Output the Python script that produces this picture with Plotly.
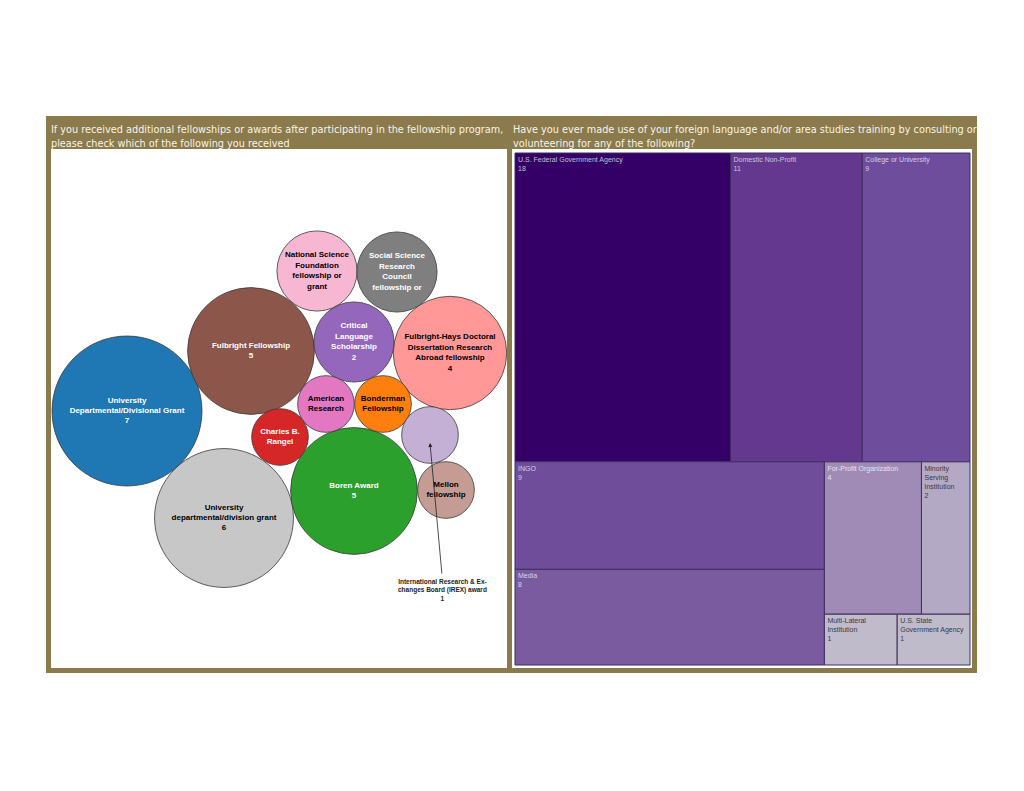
import plotly.graph_objects as go

W, H = 1024, 791

# --- left panel: bubbles (awards received after the program) ---
bubble_text = [
    "University<br>Departmental/Divisional Grant<br>7",
    "University<br>departmental/division grant<br>6",
    "Fulbright Fellowship<br>5",
    "Boren Award<br>5",
    "Fulbright-Hays Doctoral<br>Dissertation Research<br>Abroad fellowship<br>4",
    "Critical<br>Language<br>Scholarship<br>2",
    "National Science<br>Foundation<br>fellowship or<br>grant",
    "Social Science<br>Research<br>Council<br>fellowship or",
    "American<br>Research",
    "Bonderman<br>Fellowship",
    "Charles B.<br>Rangel",
    "",
    "Mellon<br>fellowship",
]
bubble_values = [7, 6, 5, 5, 4, 2, 2, 2, 1, 1, 1, 1, 1]
# packed positions of the bubble centres (same units as the panel axes)
bubble_x = [127, 224, 251, 354, 450, 354, 317, 397, 326, 383, 280, 430, 446]
bubble_y = [411, 518, 351, 491, 353, 342, 271, 272, 404, 404, 437, 435, 490]
irex_label = "International Research & Ex-<br>changes Board (IREX) award<br>1"

bubble_colors = ["#1f77b4", "#c7c7c7", "#8c564b", "#2ca02c", "#ff9896", "#9467bd",
                 "#f7b6d2", "#7f7f7f", "#e377c2", "#ff7f0e", "#d62728", "#c5b0d5",
                 "#c49c94"]
bubble_text_colors = ["white", "black", "white", "white", "black", "white",
                      "black", "white", "black", "black", "white", "black",
                      "black"]

# --- right panel: treemap (use of language / area training) ---
tree_labels = ["U.S. Federal Government Agency", "Domestic Non-Profit",
               "College or University", "INGO", "Media", "For-Profit Organization",
               "Minority<br>Serving<br>Institution", "Multi-Lateral<br>Institution",
               "U.S. State<br>Government Agency"]
tree_values = [18, 11, 9, 9, 8, 4, 2, 1, 1]
tree_colors = ["#340068", "#64388f", "#6e4d9d", "#6f4d9b", "#7a5ba0", "#a08bb6",
               "#b4a9c4", "#c0bbcb", "#c0bbcb"]
tree_text_colors = ["#c4c0cc", "#ccc6d8", "#d4cfe0", "#d4cfe0", "#d8d3e4",
                    "#e6e2ee", "#3c3846", "#3c3846", "#3c3846"]

title_left = ("If you received additional fellowships or awards after participating in the fellowship program,"
              "<br>please check which of the following you received")
title_right = ("Have you ever made use of your foreign language and/or area studies training by consulting or"
               "<br>volunteering for any of the following?")


def px_x(v):
    return v / W


def px_y(v):
    return 1 - v / H


fig = go.Figure()

fig.add_trace(go.Scatter(
    x=bubble_x,
    y=bubble_y,
    mode="markers+text",
    text=bubble_text,
    textposition="middle center",
    textfont=dict(family="Liberation Sans, Arial", size=8, color=bubble_text_colors,
                  weight="bold"),
    marker=dict(
        size=bubble_values,
        sizemode="area",
        sizeref=2 * max(bubble_values) / 150 ** 2,
        color=bubble_colors,
        opacity=1,
        line=dict(color="#3a3a3a", width=0.8),
    ),
    hoverinfo="skip",
    showlegend=False,
))

fig.add_trace(go.Treemap(
    labels=tree_labels,
    parents=[""] * len(tree_labels),
    values=tree_values,
    textinfo="label+value",
    textposition="top left",
    textfont=dict(family="Liberation Sans, Arial", size=7, color=tree_text_colors),
    marker=dict(colors=tree_colors, line=dict(color="#3e2e5e", width=1),
                pad=dict(t=0, l=0, r=0, b=0)),
    tiling=dict(packing="squarify", squarifyratio=1.618, pad=0),
    pathbar=dict(visible=False),
    sort=True,
    domain=dict(x=[px_x(515), px_x(970)], y=[px_y(665), px_y(153)]),
    hoverinfo="label+value",
))

title_font = dict(family="Liberation Sans Narrow, DejaVu Sans Condensed", size=10.8,
                  color="#f7f3ea")

fig.update_layout(
    width=W,
    height=H,
    margin=dict(l=0, r=0, t=0, b=0),
    paper_bgcolor="white",
    plot_bgcolor="white",
    xaxis=dict(domain=[px_x(51), px_x(507)], range=[51, 507], visible=False, fixedrange=True),
    yaxis=dict(domain=[px_y(668), px_y(149)], range=[668, 149], visible=False, fixedrange=True),
    shapes=[
        dict(type="rect", xref="paper", yref="paper", layer="below",
             x0=px_x(46), x1=px_x(977), y0=px_y(673), y1=px_y(116),
             fillcolor="#8b7a4b", line=dict(width=0)),
        dict(type="rect", xref="paper", yref="paper", layer="below",
             x0=px_x(51), x1=px_x(507), y0=px_y(668), y1=px_y(149),
             fillcolor="white", line=dict(width=0)),
        dict(type="rect", xref="paper", yref="paper", layer="below",
             x0=px_x(512), x1=px_x(972), y0=px_y(668), y1=px_y(149),
             fillcolor="white", line=dict(width=0)),
    ],
    annotations=[
        dict(text=title_left, xref="paper", yref="paper", x=px_x(49), y=px_y(121),
             xanchor="left", yanchor="top", align="left", showarrow=False,
             font=title_font),
        dict(text=title_right, xref="paper", yref="paper", x=px_x(511), y=px_y(121),
             xanchor="left", yanchor="top", align="left", showarrow=False,
             font=title_font),
        dict(text=irex_label, x=bubble_x[11] + 12, y=590, xref="x", yref="y",
             showarrow=False,
             font=dict(family="Liberation Sans, Arial", size=6.5, color="#222222",
                       weight="bold"),
             align="center"),
        dict(x=bubble_x[11], y=bubble_y[11] + 8, xref="x", yref="y",
             ax=bubble_x[11] + 12, ay=575, axref="x", ayref="y",
             text="", showarrow=True, arrowhead=2, arrowsize=1, arrowwidth=0.8,
             arrowcolor="#222222"),
    ],
)

fig.write_html("out.html", config={"displayModeBar": False},
               post_script="document.body.style.margin = '0px';")
